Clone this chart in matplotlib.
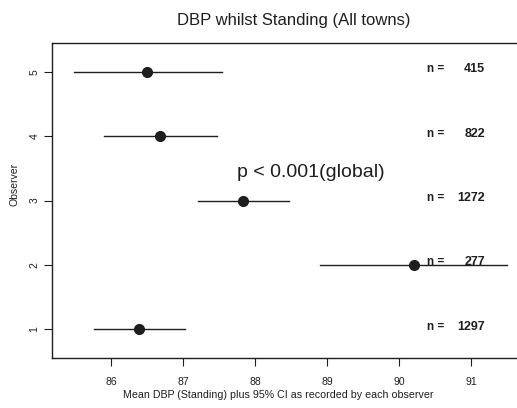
import matplotlib
matplotlib.use("Agg")
import matplotlib.pyplot as plt

plt.rcParams['font.family'] = ['Liberation Sans', 'DejaVu Sans']

observers = [1, 2, 3, 4, 5]
means = [86.39, 90.21, 87.83, 86.68, 86.50]
ci_low = [85.76, 88.90, 87.21, 85.90, 85.49]
ci_high = [87.03, 91.50, 88.47, 87.47, 87.54]
counts = [1297, 277, 1272, 822, 415]
xticks = [86, 87, 88, 89, 90, 91]

col = '#1e1e1e'
W, H = 517, 408
fig = plt.figure(figsize=(5.17, 4.08), dpi=100)
ax = fig.add_axes([0.1006, 0.1225, 0.8994, 0.772])

for y, m, lo, hi in zip(observers, means, ci_low, ci_high):
    ax.plot([lo, hi], [y, y], color=col, lw=1.0)
    ax.plot(m, y, 'o', color=col, ms=7)

for y, n in zip(observers, counts):
    ax.text(90.39, y + 0.04, "n =", fontsize=8.5, fontweight='bold', color=col, va='center', ha='left')
    ax.text(91.2, y + 0.04, str(n), fontsize=9, fontweight='bold', color=col, va='center', ha='right')

ax.text(87.75, 3.44, "p < 0.001(global)", fontsize=14, color=col, ha='left', va='center')

ax.set_xlim(85.18, 91.64)
ax.set_ylim(0.55, 5.45)
ax.set_xticks(xticks)
ax.set_xticklabels([str(t) for t in xticks], fontsize=7.5, color=col)
ax.set_yticks(observers)
ax.set_yticklabels([str(o) for o in observers], fontsize=7.5, color=col, rotation=90, va='center')
ax.spines['right'].set_visible(False)
for s in ['left', 'top', 'bottom']:
    ax.spines[s].set_color(col)
    ax.spines[s].set_linewidth(1.0)
ax.tick_params(color=col, length=6, width=0.8)
ax.tick_params(axis='x', pad=8)
ax.tick_params(axis='y', pad=3)

fig.text(278 / W, 1 - 395 / H, "Mean DBP (Standing) plus 95% CI as recorded by each observer",
         fontsize=7.7, color=col, ha='center', va='center')
fig.text(15 / W, 1 - 184 / H, "Observer", fontsize=7.5, color=col, ha='center', va='center', rotation=90)
fig.text(294 / W, 1 - 20 / H, "DBP whilst Standing (All towns)", fontsize=12, color=col, ha='center', va='center')

fig.savefig("out.png", dpi=100)
